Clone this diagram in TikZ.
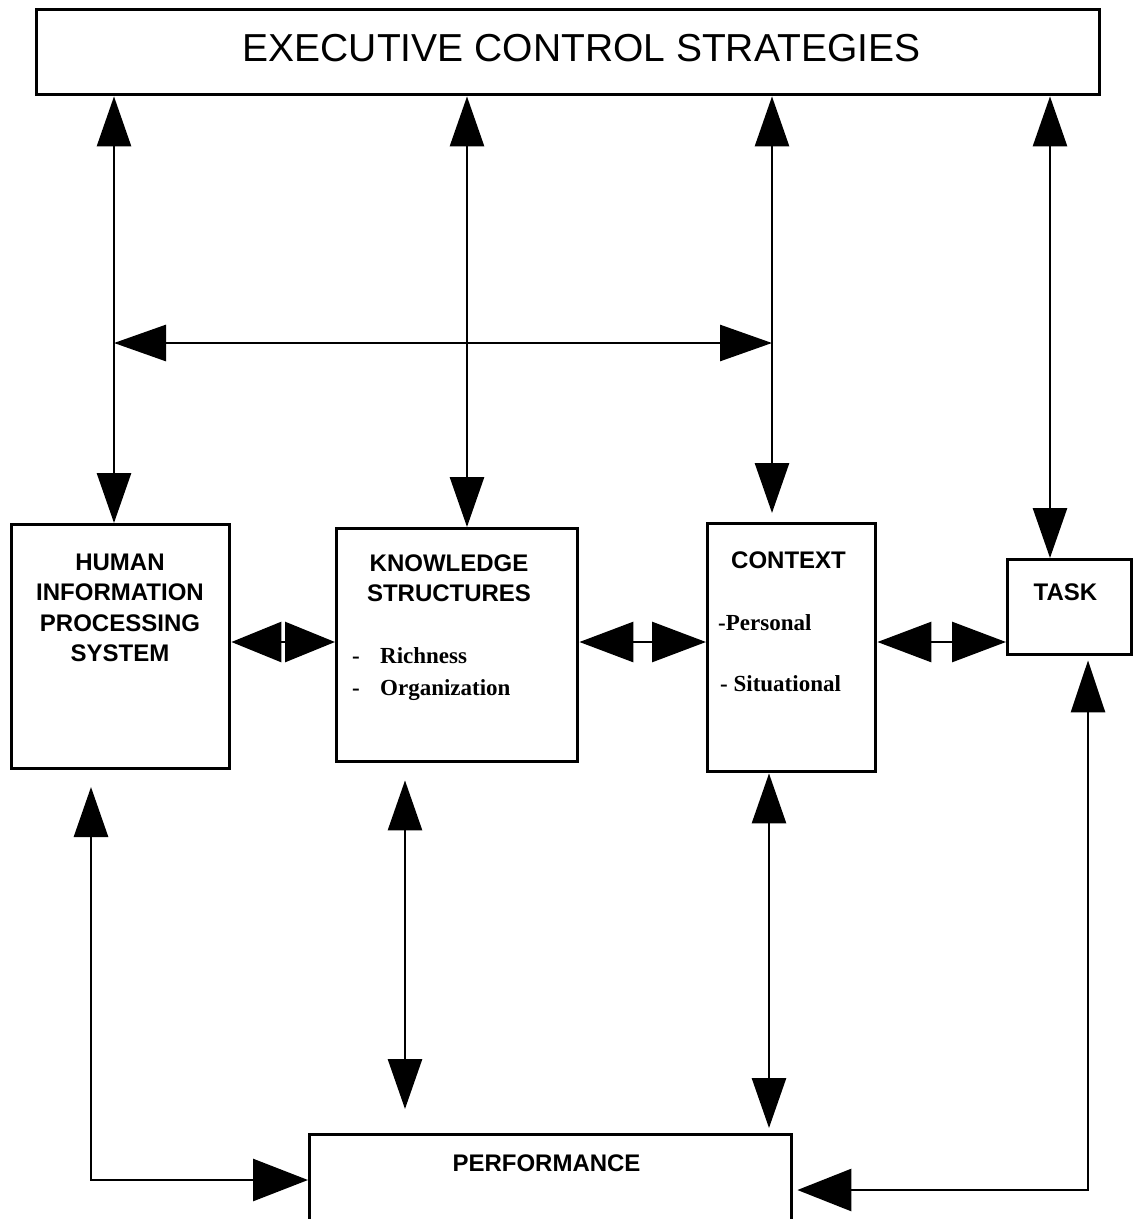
\documentclass[tikz,border=0pt]{standalone}
\usepackage{fontspec}
\setmainfont{Liberation Serif}
\newfontfamily\hsans{Liberation Sans}
\usetikzlibrary{arrows.meta}
\begin{document}
\begin{tikzpicture}[x=1pt,y=-1pt,
  box/.style={draw, line width=3.4pt, inner sep=0pt, anchor=north west},
  ttl/.style={font=\hsans\bfseries\fontsize{24}{30.5}\selectfont, align=center, anchor=north, inner sep=0pt},
  itm/.style={font=\bfseries\fontsize{23}{28}\selectfont, anchor=base west, inner sep=0pt},
  link/.style={line width=2.8pt},
  vv/.style={{Triangle[length=50pt,width=34pt]}-{Triangle[length=50pt,width=34pt]}},
  hh/.style={{Triangle[length=54pt,width=40pt]}-{Triangle[length=54pt,width=40pt]}},
  hs/.style={{Triangle[length=50pt,width=40pt]}-{Triangle[length=50pt,width=40pt]}}
]
\useasboundingbox (0,0) rectangle (1135,1219);
\clip (0,0) rectangle (1135,1219);
\fill[white] (0,0) rectangle (1135,1219);

% boxes
\node[box, minimum width=1063, minimum height=85] (ecs) at (35,8) {};
\node[font=\hsans\fontsize{39}{44}\selectfont, inner sep=0pt] (ecst) at (581.5,48) {EXECUTIVE CONTROL STRATEGIES};

\node[box, minimum width=218, minimum height=244] (hips) at (10,523) {};
\node[ttl] (hipst) at (120,553.5) {HUMAN\\INFORMATION\\PROCESSING\\SYSTEM};

\node[box, minimum width=241, minimum height=233] (ks) at (335,527) {};
\node[ttl] (kst) at (449,554.5) {KNOWLEDGE\\STRUCTURES};
\node[itm] (ks1) at (352,663) {\makebox[28pt][l]{-}Richness};
\node[itm] (ks2) at (352,695) {\makebox[28pt][l]{-}Organization};

\node[box, minimum width=168, minimum height=248] (ctx) at (706,522) {};
\node[ttl] (ctxt) at (788.5,551.5) {CONTEXT};
\node[itm] (ctx1) at (718,630) {-Personal};
\node[itm] (ctx2) at (720,691) {- Situational};

\node[box, minimum width=124, minimum height=95] (task) at (1006,558) {};
\node[ttl] (taskt) at (1065.5,583.5) {TASK};

\node[box, minimum width=482, minimum height=110] (perf) at (308,1133) {};
\node[ttl] (perft) at (546.5,1154.5) {PERFORMANCE};

% column coordinates
\coordinate (xa) at (114,0);
\coordinate (xb) at (467,0);
\coordinate (xc) at (772,0);
\coordinate (xd) at (1050,0);

% from executive box down
\draw[link, vv] (ecs.south -| xa) -- (hips.north -| xa);
\draw[link, vv] (ecs.south -| xb) -- (ks.north -| xb);
\draw[link, vv, shorten >=9pt] (ecs.south -| xc) -- (ctx.north -| xc);
\draw[link, vv] (ecs.south -| xd) -- (task.north -| xd);

% cross arrow
\coordinate (hl) at (114,343);
\coordinate (hr) at (772,343);
\draw[link, {Triangle[length=52pt,width=36pt]}-{Triangle[length=52pt,width=36pt]}] (hl) -- (hr);

% between boxes
\coordinate (yh) at (0,642);
\draw[link, hs] (hips.east |- yh) -- (ks.west |- yh);
\draw[link, hh] (ks.east |- yh) -- (ctx.west |- yh);
\draw[link, hh] (ctx.east |- yh) -- (task.west |- yh);

% down to performance
\coordinate (pa) at (91,787);
\coordinate (pa2) at (91,1180);
\draw[link, {Triangle[length=50pt,width=34pt]}-{Triangle[length=55pt,width=42pt]}] (pa) -- (pa2) -- (perf.west |- pa2);

\coordinate (xbb) at (405,0);
\draw[link, vv, shorten <=17pt, shorten >=24pt] (ks.south -| xbb) -- (perf.north -| xbb);

\coordinate (xcc) at (769,0);
\draw[link, vv, shorten >=5pt] (ctx.south -| xcc) -- (perf.north -| xcc);

\coordinate (pd) at (1088,1190);
\draw[link, {Triangle[length=52pt,width=34pt]}-{Triangle[length=54pt,width=42pt]}, shorten <=4pt, shorten >=4pt] (task.south -| pd) -- (pd) -- (perf.east |- pd);
\end{tikzpicture}
\end{document}
